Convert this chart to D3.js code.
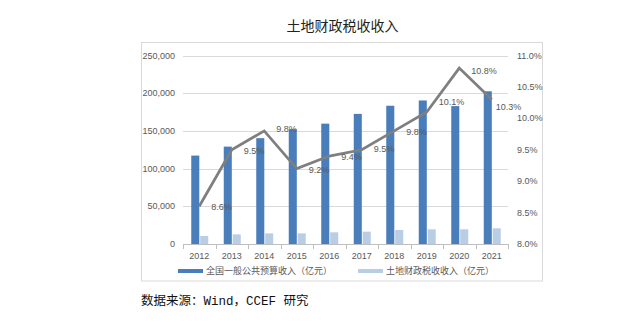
<!DOCTYPE html>
<html>
<head>
<meta charset="utf-8">
<script src="https://cdn.jsdelivr.net/npm/d3@7"></script>
<style>
  body { margin: 0; background: #fff; }
  svg { display: block; }
</style>
</head>
<body>
<svg id="chart" width="641" height="331"></svg>
<script>
// Data
const years = ["2012","2013","2014","2015","2016","2017","2018","2019","2020","2021"];
const budgetRevenue = [117254, 129143, 140350, 152217, 159605, 172567, 183352, 190382, 182895, 202539];
const landTaxRevenue = [10600, 12800, 14100, 14100, 15500, 16400, 18600, 19500, 19500, 20800];
const landTaxShare = [8.6, 9.5, 9.8, 9.2, 9.4, 9.5, 9.8, 10.1, 10.8, 10.3];
const leftTicks = [0, 50000, 100000, 150000, 200000, 250000];
const rightTicks = [8.0, 8.5, 9.0, 9.5, 10.0, 10.5, 11.0];
const seriesNames = ["全国一般公共预算收入（亿元）", "土地财政税收收入（亿元）"];
const titleText = "土地财政税收收入";
const sourceText = "数据来源：Wind，CCEF 研究";

const svg = d3.select("#chart");
const colors = { dark: "#4a7ebb", light: "#b9cde5", line: "#7f7f7f", text: "#595959", grid: "#d9d9d9" };
const plot = { left: 183, right: 508, top: 55.5, bottom: 244 };

// Outer frame
svg.append("rect").attr("x", 141.5).attr("y", 42.5).attr("width", 401).attr("height", 238.5)
  .attr("fill", "none").attr("stroke", "#d9d9d9").attr("stroke-width", 1);

// Title
svg.append("text").attr("x", 342.5).attr("y", 31)
  .attr("text-anchor", "middle")
  .attr("font-family", "'Noto Sans CJK SC', sans-serif")
  .attr("font-size", 14).attr("fill", "#222")
  .text(titleText);

const x = d3.scaleBand().domain(years).range([plot.left, plot.right]).paddingInner(0).paddingOuter(0);
const yL = d3.scaleLinear().domain([0, 250000]).range([plot.bottom, plot.top]);
const yR = d3.scaleLinear().domain([8.0, 11.0]).range([plot.bottom, plot.top]);
const sub = d3.scaleBand().domain(["a", "b"]).range([x.bandwidth() / 2 - 8, x.bandwidth() / 2 + 9]).paddingInner(0.1);

// Gridlines
svg.append("g").selectAll("line").data(leftTicks.filter(d => d > 0)).join("line")
  .attr("x1", plot.left).attr("x2", plot.right)
  .attr("y1", d => Math.round(yL(d)) + 0.5).attr("y2", d => Math.round(yL(d)) + 0.5)
  .attr("stroke", colors.grid).attr("stroke-width", 1);

// Left axis labels
const fmt = d3.format(",");
svg.append("g").selectAll("text").data(leftTicks).join("text")
  .attr("x", 175).attr("y", d => yL(d)).attr("dy", "0.35em")
  .attr("text-anchor", "end")
  .attr("font-family", "'Liberation Sans', Arial, sans-serif")
  .attr("font-size", 9).attr("fill", colors.text)
  .text(d => fmt(d));

// Right axis labels
svg.append("g").selectAll("text").data(rightTicks).join("text")
  .attr("x", 517).attr("y", d => yR(d)).attr("dy", "0.35em")
  .attr("text-anchor", "start")
  .attr("font-family", "'Liberation Sans', Arial, sans-serif")
  .attr("font-size", 9).attr("fill", colors.text)
  .text(d => d.toFixed(1) + "%");

// Bars
const groups = svg.append("g").selectAll("g").data(years).join("g")
  .attr("transform", d => `translate(${x(d)},0)`);
groups.append("rect")
  .attr("x", sub("a")).attr("width", sub.bandwidth())
  .attr("y", (d, i) => yL(budgetRevenue[i]))
  .attr("height", (d, i) => yL(0) - yL(budgetRevenue[i]))
  .attr("fill", colors.dark);
groups.append("rect")
  .attr("x", sub("b")).attr("width", sub.bandwidth())
  .attr("y", (d, i) => yL(landTaxRevenue[i]))
  .attr("height", (d, i) => yL(0) - yL(landTaxRevenue[i]))
  .attr("fill", colors.light);

// Category axis
const xAxisG = svg.append("g");
xAxisG.append("line").attr("x1", plot.left).attr("x2", plot.right)
  .attr("y1", plot.bottom + 0.5).attr("y2", plot.bottom + 0.5)
  .attr("stroke", "#bfbfbf");
const bounds = years.map(d => x(d)).concat([plot.right]);
xAxisG.selectAll("line.tick").data(bounds).join("line").attr("class", "tick")
  .attr("x1", d => Math.round(d) + 0.5).attr("x2", d => Math.round(d) + 0.5)
  .attr("y1", plot.bottom).attr("y2", plot.bottom + 5)
  .attr("stroke", "#bfbfbf");
xAxisG.selectAll("text").data(years).join("text")
  .attr("x", d => x(d) + x.bandwidth() / 2).attr("y", 256).attr("dy", "0.35em")
  .attr("text-anchor", "middle")
  .attr("font-family", "'Liberation Sans', Arial, sans-serif")
  .attr("font-size", 9).attr("fill", colors.text)
  .text(d => d);

// Share line
const cx = d => x(d) + x.bandwidth() / 2;
const line = d3.line().x((d, i) => cx(years[i])).y(d => yR(d));
svg.append("path").datum(landTaxShare).attr("d", line)
  .attr("fill", "none").attr("stroke", colors.line).attr("stroke-width", 2.75)
  .attr("stroke-linejoin", "miter");

// Share labels
const labelShift = [[12, 1], [12, 1], [12, -2], [12, 1], [12, 1], [12, -1], [12, 1], [12, -10], [12, 3], [4, 7]];
svg.append("g").selectAll("text").data(landTaxShare).join("text")
  .attr("x", (d, i) => cx(years[i]) + labelShift[i][0])
  .attr("y", (d, i) => yR(d) + labelShift[i][1]).attr("dy", "0.35em")
  .attr("font-family", "'Liberation Sans', Arial, sans-serif")
  .attr("font-size", 9).attr("fill", colors.text)
  .text(d => d.toFixed(1) + "%");

// Legend
const legend = svg.append("g").attr("font-family", "'Noto Sans CJK SC', sans-serif")
  .attr("font-size", 9).attr("fill", colors.text);
const legendX = [178, 358];
[colors.dark, colors.light].forEach((c, i) => {
  legend.append("rect").attr("x", legendX[i]).attr("y", 269).attr("width", 25).attr("height", 4).attr("fill", c);
  legend.append("text").attr("x", legendX[i] + 28).attr("y", 271).attr("dy", "0.35em").text(seriesNames[i]);
});

// Source note
svg.append("text").attr("x", 141).attr("y", 305)
  .attr("font-family", "'Liberation Mono', 'Noto Sans CJK SC', monospace")
  .attr("font-size", 12.5).attr("fill", "#111")
  .text(sourceText);
</script>
</body>
</html>
